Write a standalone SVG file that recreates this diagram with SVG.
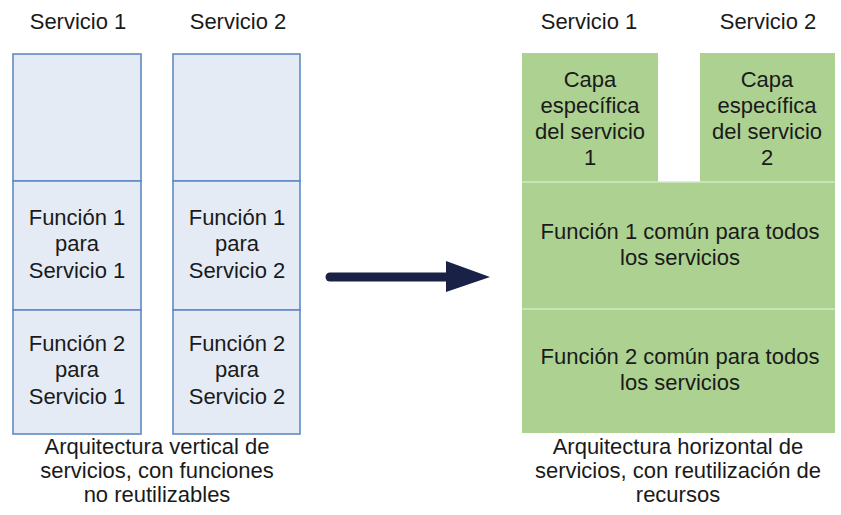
<svg xmlns="http://www.w3.org/2000/svg" width="841" height="515" viewBox="0 0 841 515">
<defs>
<style>
text{font-family:"Liberation Sans",Arial,sans-serif;font-size:22px;fill:#1a1a1a;text-anchor:middle}
.blue{fill:#e4ebf5;stroke:#5f8ac4;stroke-width:1.6}
.green{fill:#acd191;stroke:none}
.gdiv{stroke:#d3e8c4;stroke-width:1.5}
</style>
</defs>
<rect width="841" height="515" fill="#ffffff"/>
<g id="labels-top">
<text x="78" y="29">Servicio 1</text>
<text x="238" y="29">Servicio 2</text>
<text x="589" y="29">Servicio 1</text>
<text x="768" y="29">Servicio 2</text>
</g>
<g id="col1">
<rect class="blue" x="13" y="54" width="128" height="127"/>
<rect class="blue" x="13" y="181" width="128" height="129"/>
<text x="77" y="225">Función 1</text><text x="77" y="251">para</text><text x="77" y="278">Servicio 1</text>
<rect class="blue" x="13" y="310" width="128" height="124"/>
<text x="77" y="351">Función 2</text><text x="77" y="377">para</text><text x="77" y="404">Servicio 1</text>
</g>
<g id="col2">
<rect class="blue" x="173" y="54" width="127" height="127"/>
<rect class="blue" x="173" y="181" width="127" height="129"/>
<text x="237" y="225">Función 1</text><text x="237" y="251">para</text><text x="237" y="278">Servicio 2</text>
<rect class="blue" x="173" y="310" width="127" height="124"/>
<text x="237" y="351">Función 2</text><text x="237" y="377">para</text><text x="237" y="404">Servicio 2</text>
</g>
<g id="caption-left">
<text x="157" y="454">Arquitectura vertical de</text>
<text x="157" y="478">servicios, con funciones</text>
<text x="157" y="502">no reutilizables</text>
</g>
<g id="connectors">
<line x1="330" y1="277" x2="448" y2="277" stroke="#1a2147" stroke-width="9" stroke-linecap="round"/>
<polygon points="446,261 490,277 446,292" fill="#1a2147"/>
</g>
<g id="capa1">
<rect class="green" x="522" y="53" width="136" height="129"/>
<text x="590" y="87">Capa</text><text x="590" y="113">específica</text><text x="590" y="139">del servicio</text><text x="590" y="165">1</text>
</g>
<g id="capa2">
<rect class="green" x="700" y="53" width="135" height="129"/>
<text x="767" y="87">Capa</text><text x="767" y="113">específica</text><text x="767" y="139">del servicio</text><text x="767" y="165">2</text>
</g>
<g id="funcion1">
<rect class="green" x="522" y="182" width="313" height="127"/>
<line class="gdiv" x1="522" y1="182" x2="835" y2="182"/>
<text x="680" y="239">Función 1 común para todos</text>
<text x="680" y="265">los servicios</text>
</g>
<g id="funcion2">
<rect class="green" x="522" y="309" width="313" height="124"/>
<line class="gdiv" x1="522" y1="309" x2="835" y2="309"/>
<text x="680" y="364">Función 2 común para todos</text>
<text x="680" y="390">los servicios</text>
</g>
<g id="caption-right">
<text x="678" y="454">Arquitectura horizontal de</text>
<text x="678" y="478">servicios, con reutilización de</text>
<text x="678" y="502">recursos</text>
</g>
</svg>
